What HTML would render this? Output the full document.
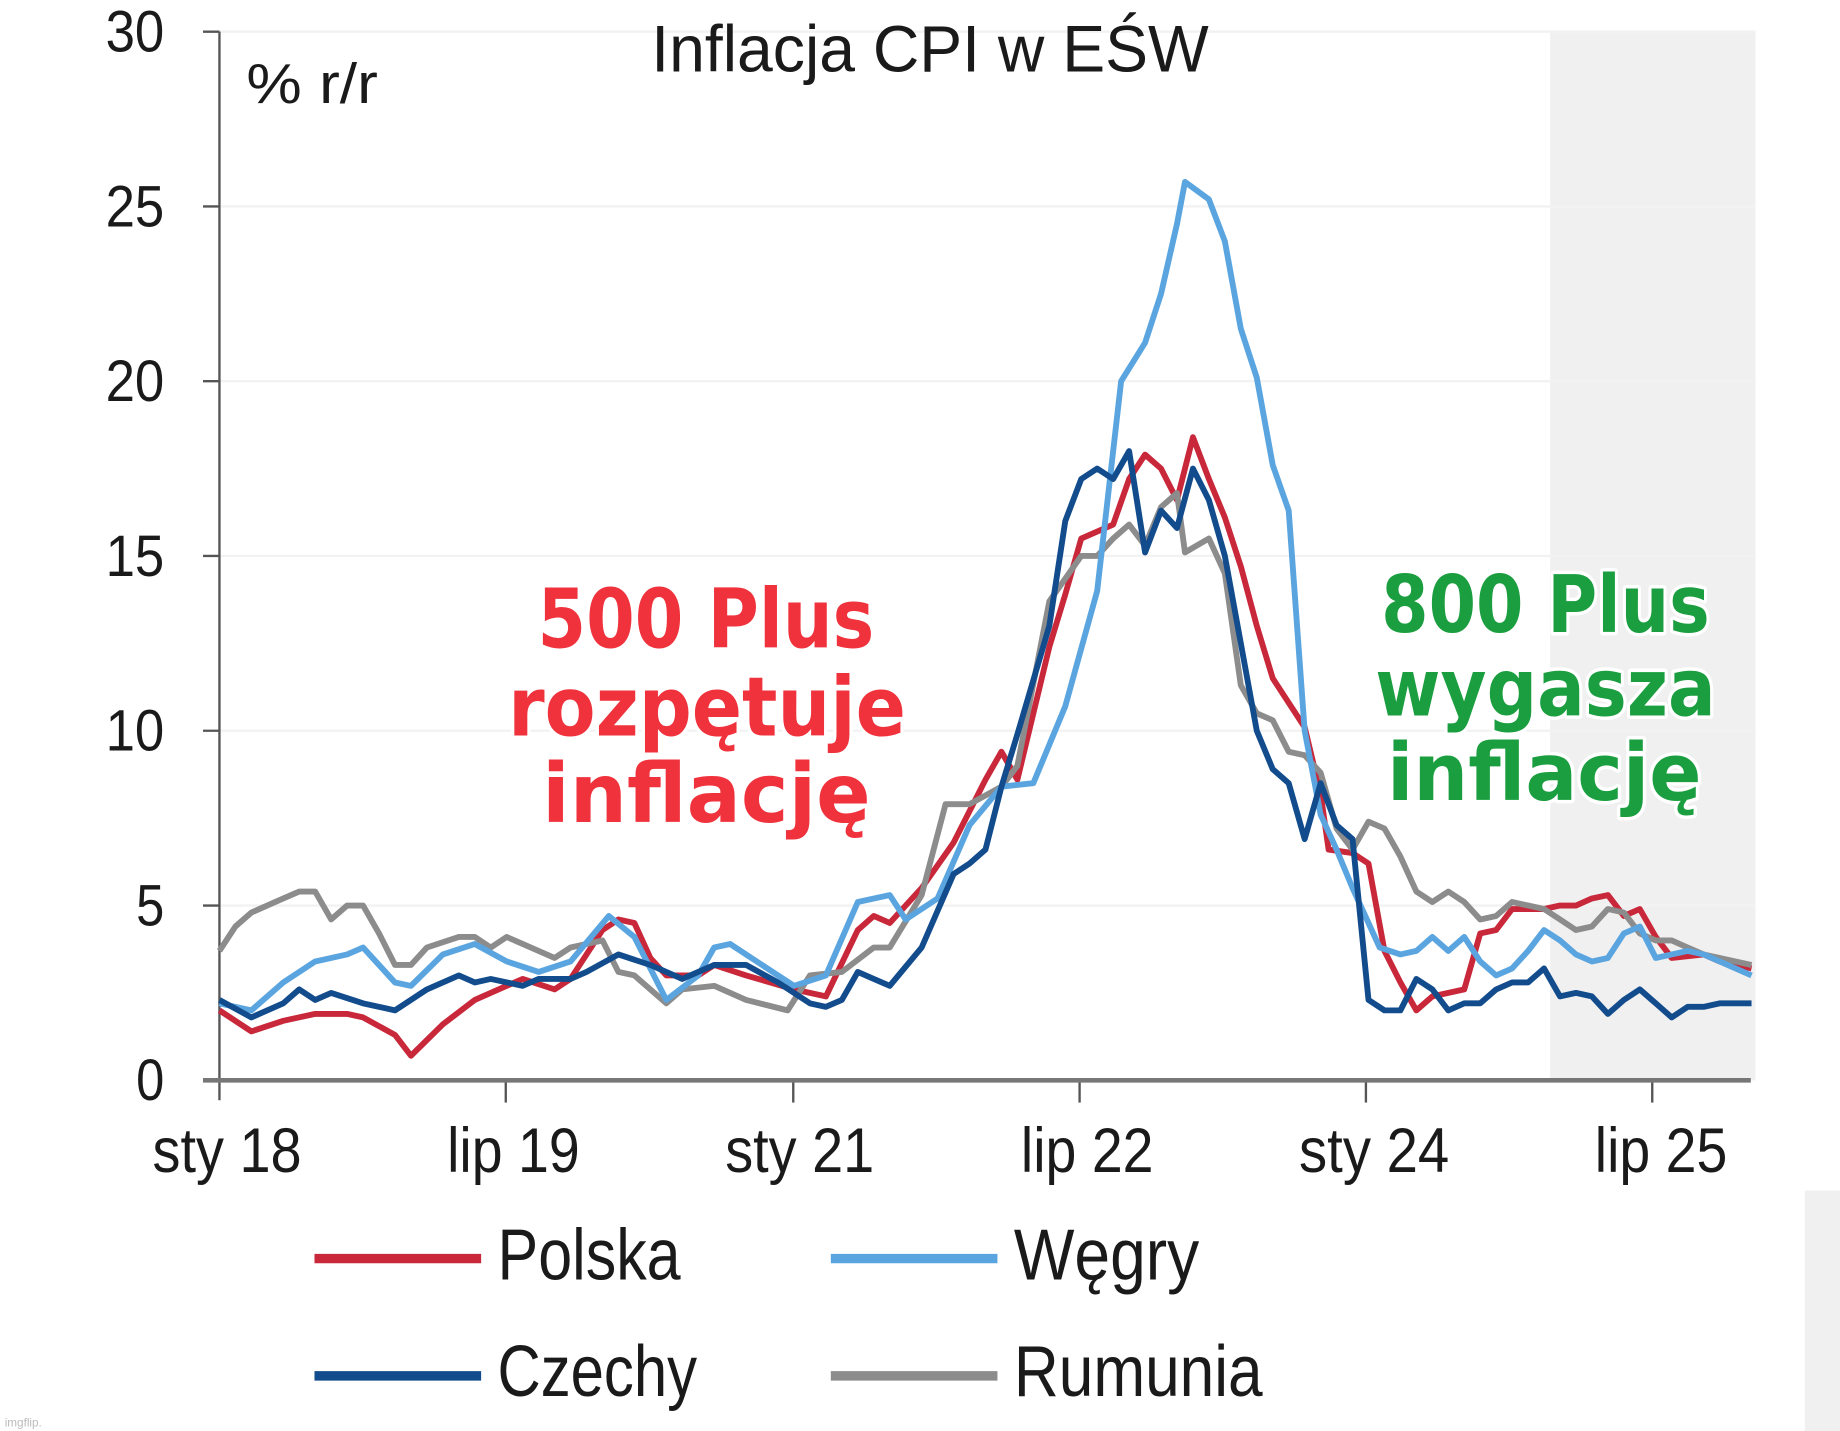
<!DOCTYPE html>
<html><head><meta charset="utf-8"><style>
html,body{margin:0;padding:0;background:#fff;}
svg{display:block;}
.ax{font-family:"Liberation Sans Narrow","Liberation Sans",sans-serif;fill:#1a1a1a;}
.ann{font-family:"DejaVu Sans","Liberation Sans",sans-serif;font-weight:bold;stroke:#fff;stroke-width:6;paint-order:stroke;stroke-linejoin:round;}
</style></head><body>
<svg id="s" width="1840" height="1431" viewBox="0 0 1568 1220" preserveAspectRatio="none" xmlns="http://www.w3.org/2000/svg">
<rect x="0" y="0" width="1568" height="1220" fill="#fff"/>
<rect x="1321" y="27" width="175" height="894" fill="#f0f0f0"/>
<rect x="1538" y="1015" width="30" height="205" fill="#f0f0f0"/>
<g stroke="#f2f2f2" stroke-width="2">
<line x1="187" y1="27" x2="1496" y2="27"/><line x1="187" y1="176" x2="1496" y2="176"/>
<line x1="187" y1="325" x2="1496" y2="325"/><line x1="187" y1="474" x2="1496" y2="474"/>
<line x1="187" y1="623" x2="1496" y2="623"/><line x1="187" y1="772" x2="1496" y2="772"/>
</g>
<g stroke="#555" stroke-width="2">
<line x1="187" y1="27" x2="187" y2="938"/>
<line x1="173" y1="27" x2="187" y2="27"/><line x1="173" y1="176" x2="187" y2="176"/>
<line x1="173" y1="325" x2="187" y2="325"/><line x1="173" y1="474" x2="187" y2="474"/>
<line x1="173" y1="623" x2="187" y2="623"/><line x1="173" y1="772" x2="187" y2="772"/>
<line x1="431" y1="921" x2="431" y2="940"/><line x1="676" y1="921" x2="676" y2="940"/>
<line x1="920" y1="921" x2="920" y2="940"/><line x1="1164" y1="921" x2="1164" y2="940"/>
<line x1="1408" y1="921" x2="1408" y2="940"/>
</g>
<line x1="173" y1="921" x2="1492" y2="921" stroke="#777" stroke-width="4"/>
<g class="ax" font-size="50" lengthAdjust="spacingAndGlyphs">
<text x="90" y="44" textLength="50" lengthAdjust="spacingAndGlyphs">30</text>
<text x="90" y="193" textLength="50" lengthAdjust="spacingAndGlyphs">25</text>
<text x="90" y="342" textLength="50" lengthAdjust="spacingAndGlyphs">20</text>
<text x="90" y="491" textLength="50" lengthAdjust="spacingAndGlyphs">15</text>
<text x="90" y="640" textLength="50" lengthAdjust="spacingAndGlyphs">10</text>
<text x="116" y="789" textLength="24" lengthAdjust="spacingAndGlyphs">5</text>
<text x="116" y="938" textLength="24" lengthAdjust="spacingAndGlyphs">0</text>
</g>
<g class="ax" font-size="54">
<text x="130" y="999" textLength="127" lengthAdjust="spacingAndGlyphs">sty 18</text>
<text x="381" y="999" textLength="113" lengthAdjust="spacingAndGlyphs">lip 19</text>
<text x="618" y="999" textLength="127" lengthAdjust="spacingAndGlyphs">sty 21</text>
<text x="870" y="999" textLength="113" lengthAdjust="spacingAndGlyphs">lip 22</text>
<text x="1107" y="999" textLength="128" lengthAdjust="spacingAndGlyphs">sty 24</text>
<text x="1359" y="999" textLength="113" lengthAdjust="spacingAndGlyphs">lip 25</text>
</g>
<text class="ax" x="555" y="61" font-size="56" textLength="475" lengthAdjust="spacingAndGlyphs">Inflacja CPI w EŚW</text>
<text class="ax" x="210" y="88" font-size="48" textLength="112" lengthAdjust="spacingAndGlyphs">% r/r</text>
<g id="series" fill="none" stroke-width="5" stroke-linejoin="round"></g>
<g stroke-width="8">
<line x1="268" y1="1073" x2="410" y2="1073" stroke="#c8283a"/>
<line x1="708" y1="1073" x2="850" y2="1073" stroke="#5aa5e0"/>
<line x1="268" y1="1173" x2="410" y2="1173" stroke="#124c8c"/>
<line x1="708" y1="1173" x2="850" y2="1173" stroke="#8c8c8c"/>
</g>
<g class="ax" font-size="62">
<text x="424" y="1091" textLength="156" lengthAdjust="spacingAndGlyphs">Polska</text>
<text x="864" y="1091" textLength="158" lengthAdjust="spacingAndGlyphs">Węgry</text>
<text x="424" y="1190" textLength="170" lengthAdjust="spacingAndGlyphs">Czechy</text>
<text x="864" y="1190" textLength="212" lengthAdjust="spacingAndGlyphs">Rumunia</text>
</g>
<g class="ann" font-size="70" fill="#f0323c">
<text x="458" y="552" textLength="287" lengthAdjust="spacingAndGlyphs">500 Plus</text>
<text x="433" y="627" textLength="339" lengthAdjust="spacingAndGlyphs">rozpętuje</text>
<text x="462" y="701" textLength="280" lengthAdjust="spacingAndGlyphs">inflację</text>
</g>
<g class="ann" font-size="68" fill="#1a9e3f">
<text x="1177" y="539" textLength="280" lengthAdjust="spacingAndGlyphs">800 Plus</text>
<text x="1172" y="610" textLength="290" lengthAdjust="spacingAndGlyphs">wygasza</text>
<text x="1182" y="682" textLength="268" lengthAdjust="spacingAndGlyphs">inflację</text>
</g>
<text x="4" y="1216" font-size="10" fill="#bbb" font-family="Liberation Sans,sans-serif">imgflip.</text>
</svg>
<script>
var S={
"#c8283a":[[0,2.0],[2,1.4],[4,1.7],[6,1.9],[8,1.9],[9,1.8],[11,1.3],[12,0.7],[14,1.6],[16,2.3],[18,2.7],[19,2.9],[21,2.6],[22,2.9],[24,4.3],[25,4.6],[26,4.5],[27,3.5],[28,3.0],[30,3.0],[31,3.3],[33,3.0],[36,2.6],[38,2.4],[40,4.3],[41,4.7],[42,4.5],[44,5.5],[46,6.8],[48,8.6],[49,9.4],[50,8.6],[52,12.4],[53,13.9],[54,15.5],[56,15.9],[57,17.2],[58,17.9],[59,17.5],[60,16.6],[61,18.4],[62,17.2],[63,16.1],[64,14.7],[65,13.0],[66,11.5],[67,10.8],[68,10.1],[69,8.2],[69.5,6.6],[71,6.5],[72,6.2],[73,3.7],[74,2.8],[75,2.0],[76,2.4],[77,2.5],[78,2.6],[79,4.2],[80,4.3],[81,4.9],[83,4.9],[84,5.0],[85,5.0],[86,5.2],[87,5.3],[88,4.7],[89,4.9],[90,4.1],[91,3.5],[93,3.6],[94,3.4],[96,3.2]],
"#8c8c8c":[[0,3.7],[1,4.4],[2,4.8],[4,5.2],[5,5.4],[6,5.4],[7,4.6],[8,5.0],[9,5.0],[10,4.2],[11,3.3],[12,3.3],[13,3.8],[15,4.1],[16,4.1],[17,3.8],[18,4.1],[19,3.9],[21,3.5],[22,3.8],[24,4.0],[25,3.1],[26,3.0],[28,2.2],[29,2.6],[31,2.7],[33,2.3],[35.6,2.0],[37,3.0],[39,3.1],[41,3.8],[42,3.8],[44,5.3],[45.5,7.9],[47,7.9],[49,8.4],[50,9.0],[52,13.7],[54,15.0],[55,15.0],[56,15.5],[57,15.9],[58,15.3],[59,16.4],[60,16.8],[60.5,15.1],[62,15.5],[63,14.5],[64,11.3],[65,10.5],[66,10.3],[67,9.4],[68,9.3],[69,8.8],[70,7.2],[71,6.6],[72,7.4],[73,7.2],[74,6.4],[75,5.4],[76,5.1],[77,5.4],[78,5.1],[79,4.6],[80,4.7],[81,5.1],[82,5.0],[83,4.9],[84,4.6],[85,4.3],[86,4.4],[87,4.9],[88,4.8],[89,4.2],[90,4.0],[91,4.0],[92,3.8],[93,3.6],[94,3.5],[96,3.3]],
"#5aa5e0":[[0,2.2],[2,2.0],[4,2.8],[6,3.4],[8,3.6],[9,3.8],[11,2.8],[12,2.7],[14,3.6],[16,3.9],[18,3.4],[20,3.1],[22,3.4],[24.4,4.7],[26,4.1],[28,2.3],[30,3.0],[31,3.8],[32,3.9],[34,3.3],[36,2.7],[38,3.0],[40,5.1],[42,5.3],[43,4.6],[45,5.2],[47,7.3],[49,8.4],[51,8.5],[53,10.7],[55,14.0],[56.5,20.0],[58,21.1],[59,22.5],[60,24.5],[60.5,25.7],[62,25.2],[63,24.0],[64,21.5],[65,20.1],[66,17.6],[67,16.3],[68,10.0],[69,7.6],[70,6.6],[71,5.5],[72.7,3.8],[74,3.6],[75,3.7],[76,4.1],[77,3.7],[78,4.1],[79,3.4],[80,3.0],[81,3.2],[82,3.7],[83,4.3],[84,4.0],[85,3.6],[86,3.4],[87,3.5],[88,4.2],[89,4.4],[90,3.5],[91,3.6],[92,3.7],[93,3.6],[94,3.4],[96,3.0]],
"#124c8c":[[0,2.3],[2,1.8],[4,2.2],[5,2.6],[6,2.3],[7,2.5],[9,2.2],[11,2.0],[13,2.6],[15,3.0],[16,2.8],[17,2.9],[19,2.7],[20,2.9],[22,2.9],[23,3.1],[25,3.6],[27,3.3],[29,2.9],[31,3.3],[33,3.3],[35,2.8],[37,2.2],[38,2.1],[39,2.3],[40,3.1],[41,2.9],[42,2.7],[44,3.8],[46,5.9],[47,6.2],[48,6.6],[49,8.4],[50,9.9],[52,13.0],[53,16.0],[54,17.2],[55,17.5],[56,17.2],[57,18.0],[58,15.1],[59,16.3],[60,15.8],[61,17.5],[62,16.6],[63,15.0],[64,12.5],[65,10.0],[66,8.9],[67,8.5],[68,6.9],[69,8.5],[70,7.3],[71,6.9],[72,2.3],[73,2.0],[74,2.0],[75,2.9],[76,2.6],[77,2.0],[78,2.2],[79,2.2],[80,2.6],[81,2.8],[82,2.8],[83,3.2],[84,2.4],[85,2.5],[86,2.4],[87,1.9],[88,2.3],[89,2.6],[90,2.2],[91,1.8],[92,2.1],[93,2.1],[94,2.2],[96,2.2]]
};
var g=document.getElementById('series'),ns='http://www.w3.org/2000/svg';
for(var c in S){var p=S[c].map(function(d){return (187+d[0]*13.6).toFixed(1)+','+(921-d[1]*29.8).toFixed(1)}).join(' ');
var e=document.createElementNS(ns,'polyline');e.setAttribute('points',p);e.setAttribute('stroke',c);g.appendChild(e);}
</script>
</body></html>
